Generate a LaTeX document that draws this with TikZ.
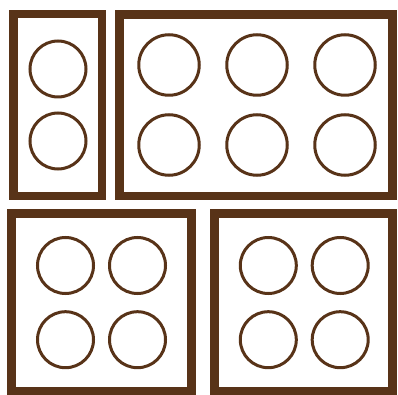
\documentclass[tikz,border=0pt]{standalone}
\definecolor{brn}{RGB}{88,51,24}
\begin{document}
\begin{tikzpicture}[x=1pt,y=-1pt,
  box/.style={draw=brn,line width=8.5pt},
  hole/.style={draw=brn,line width=3pt,circle,minimum size=56pt,inner sep=0pt}]
\useasboundingbox (0,0) rectangle (398,395);
\draw[box] (13.5,14) rectangle (102,196);
\draw[box] (119.5,14.5) rectangle (392.5,196);
\draw[box] (11.5,213.5) rectangle (191.5,391.5);
\draw[box] (214.5,213.5) rectangle (392.5,391.5);
\node[hole] (a1) at (58,69) {};
\node[hole] (a2) at (58,141) {};
\foreach \x/\n in {169/1,257/2,345/3}{
  \node[hole,minimum size=60.5pt] (b\n) at (\x,65) {};
  \node[hole,minimum size=60.5pt] (c\n) at (\x,145) {};
}
\foreach \x/\n in {65.5/1,137.5/2,268.3/3,340.2/4}{
  \node[hole] (d\n) at (\x,265.5) {};
  \node[hole] (e\n) at (\x,339.7) {};
}
\end{tikzpicture}
\end{document}
